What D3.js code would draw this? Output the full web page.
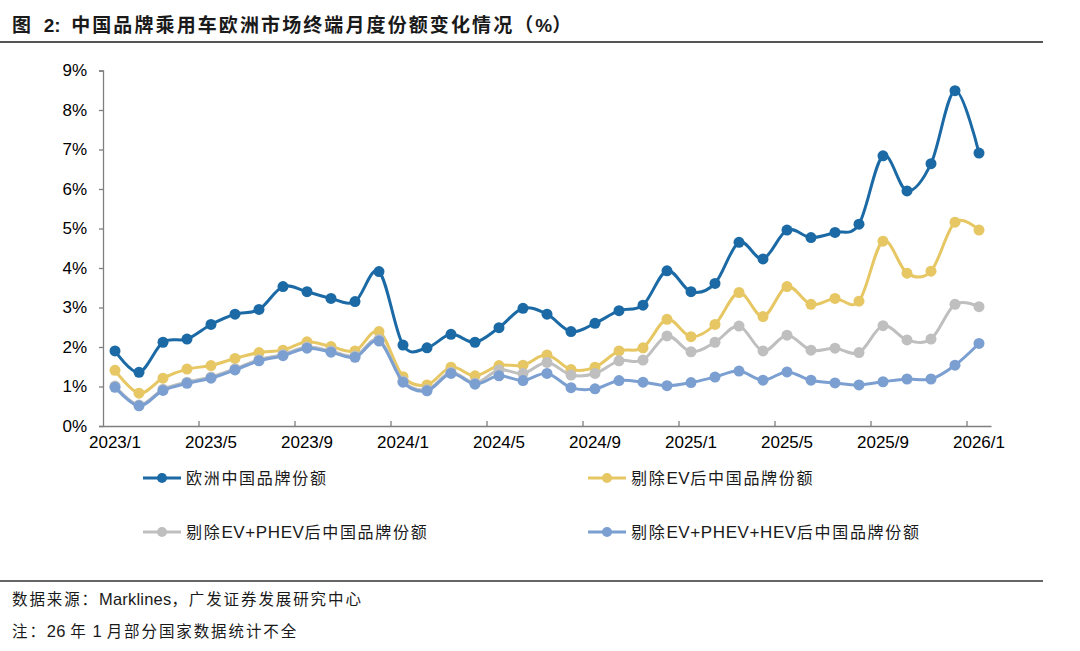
<!DOCTYPE html>
<html>
<head>
<meta charset="utf-8">
<script src="https://cdn.jsdelivr.net/npm/d3@7"></script>
<style>
  body { margin: 0; background: #fff; }
  svg { display: block; }
  .cjk { font-family: "Noto Sans CJK SC", "Liberation Sans", sans-serif; }
  .latin { font-family: "Liberation Sans", Arial, sans-serif; }
  .axis text { font-family: "Liberation Sans", Arial, sans-serif; font-size: 17px; fill: #000; }
  .axis path, .axis line { stroke: #7f7f7f; stroke-width: 1.3; }
</style>
</head>
<body>
<div id="chart"></div>
<script>
// months on the x axis
let months = [
  '2023/1','2023/2','2023/3','2023/4','2023/5','2023/6','2023/7','2023/8','2023/9','2023/10','2023/11','2023/12',
  '2024/1','2024/2','2024/3','2024/4','2024/5','2024/6','2024/7','2024/8','2024/9','2024/10','2024/11','2024/12',
  '2025/1','2025/2','2025/3','2025/4','2025/5','2025/6','2025/7','2025/8','2025/9','2025/10','2025/11','2025/12',
  '2026/1'
];
let xTickLabels = ['2023/1','2023/5','2023/9','2024/1','2024/5','2024/9','2025/1','2025/5','2025/9','2026/1'];
let yTicks = [0, 1, 2, 3, 4, 5, 6, 7, 8, 9];

// share values, %
let shareAll = [1.90,1.36,2.12,2.20,2.57,2.83,2.95,3.53,3.40,3.23,3.15,3.91,
  2.05,1.98,2.32,2.12,2.49,2.98,2.83,2.39,2.60,2.92,3.06,3.93,
  3.40,3.61,4.65,4.23,4.96,4.77,4.90,5.11,6.84,5.95,6.64,8.49,
  6.91];
let shareExEV = [1.41,0.83,1.21,1.44,1.53,1.71,1.86,1.92,2.13,2.01,1.90,2.39,
  1.25,1.04,1.49,1.27,1.53,1.54,1.80,1.43,1.49,1.90,1.98,2.70,
  2.26,2.57,3.38,2.77,3.53,3.08,3.23,3.16,4.68,3.87,3.92,5.16,
  4.96];
let shareExPHEV = [1.01,0.53,0.93,1.11,1.24,1.45,1.68,1.81,2.00,1.90,1.77,2.19,
  1.14,0.92,1.36,1.09,1.42,1.33,1.61,1.29,1.33,1.65,1.67,2.28,
  1.88,2.12,2.53,1.90,2.30,1.92,1.97,1.86,2.54,2.18,2.20,3.08,
  3.02];
let shareExHEV = [0.98,0.51,0.90,1.08,1.21,1.42,1.65,1.78,1.97,1.87,1.74,2.15,
  1.11,0.89,1.33,1.06,1.27,1.15,1.33,0.97,0.94,1.15,1.11,1.02,
  1.10,1.24,1.39,1.16,1.37,1.16,1.09,1.04,1.12,1.19,1.19,1.54,
  2.09];

let seriesNames = ['欧洲中国品牌份额', '剔除EV后中国品牌份额', '剔除EV+PHEV后中国品牌份额', '剔除EV+PHEV+HEV后中国品牌份额'];
let seriesColors = ['#1b6aa5', '#e6c763', '#bfbfbf', '#7b9fd1'];
let seriesValues = [shareAll, shareExEV, shareExPHEV, shareExHEV];

let svgWidth = 1080;
let svgHeight = 651;

let svg = d3.select('#chart').append('svg')
  .attr('width', svgWidth)
  .attr('height', svgHeight);

// write mixed text: CJK runs spaced out, latin runs in Arial
function mixedText(sel, str, spacing, latinSize, latinSpacing) {
  let runs = str.match(/[\u0000-\u00ff]+|[^\u0000-\u00ff]+/g);
  runs.forEach(function (r) {
    let latin = /^[\u0000-\u00ff]/.test(r);
    let ts = sel.append('tspan')
      .attr('class', latin ? 'latin' : 'cjk')
      .attr('letter-spacing', latin ? (latinSpacing || 0) : spacing)
      .text(r);
    if (latin && latinSize) ts.attr('font-size', latinSize);
  });
}

// title and rules
let title = svg.append('text')
  .attr('x', 12)
  .attr('y', 32)
  .attr('font-size', 19)
  .attr('font-weight', 'bold')
  .attr('fill', '#1a1a1a')
  .style('white-space', 'pre');
mixedText(title, '图  2:  中国品牌乘用车欧洲市场终端月度份额变化情况（%）', 2.1);

svg.append('line')
  .attr('x1', 0).attr('x2', 1043)
  .attr('y1', 42).attr('y2', 42)
  .attr('stroke', '#555').attr('stroke-width', 2);

svg.append('line')
  .attr('x1', 0).attr('x2', 1043)
  .attr('y1', 581).attr('y2', 581)
  .attr('stroke', '#333').attr('stroke-width', 1.5);

// scales
let x = d3.scaleBand().domain(months).range([103, 991]);
let y = d3.scaleLinear().domain([0, 9]).range([426, 70.5]);
let cx = m => x(m) + x.bandwidth() / 2;

// y axis
svg.append('g')
  .attr('class', 'axis')
  .attr('transform', 'translate(103,0)')
  .call(d3.axisLeft(y).tickValues(yTicks).tickFormat(d => d + '%').tickSize(4).tickPadding(12));

// x axis: labels at category centres
let xAxis = svg.append('g')
  .attr('class', 'axis')
  .attr('transform', 'translate(0,426)')
  .call(d3.axisBottom(x).tickValues(xTickLabels).tickSize(0).tickPadding(10));

// x tick marks on category boundaries
xAxis.selectAll('.bound')
  .data(xTickLabels.slice(1))
  .enter()
  .append('line')
  .attr('class', 'bound')
  .attr('x1', d => x(d)).attr('x2', d => x(d))
  .attr('y1', 0).attr('y2', -5);

// lines + markers
let line = d3.line()
  .x((d, i) => cx(months[i]))
  .y(d => y(d))
  .curve(d3.curveCatmullRom.alpha(0));

seriesValues.forEach(function (vals, s) {
  let g = svg.append('g');
  g.append('path')
    .datum(vals)
    .attr('d', line)
    .attr('fill', 'none')
    .attr('stroke', seriesColors[s])
    .attr('stroke-width', 3);
  g.selectAll('circle')
    .data(vals)
    .enter()
    .append('circle')
    .attr('cx', (d, i) => cx(months[i]))
    .attr('cy', d => y(d))
    .attr('r', 5.5)
    .attr('fill', seriesColors[s]);
});

// legend
let legendPos = [[143, 478], [588, 478], [143, 532], [588, 532]];
seriesNames.forEach(function (name, s) {
  let lg = svg.append('g').attr('transform', `translate(${legendPos[s][0]}, ${legendPos[s][1]})`);
  lg.append('line')
    .attr('x1', 0).attr('x2', 38)
    .attr('y1', 0).attr('y2', 0)
    .attr('stroke', seriesColors[s]).attr('stroke-width', 3);
  lg.append('circle')
    .attr('cx', 19).attr('cy', 0).attr('r', 5)
    .attr('fill', seriesColors[s]);
  let t = lg.append('text')
    .attr('x', 43)
    .attr('y', 6)
    .attr('font-size', 16)
    .attr('fill', '#1a1a1a');
  mixedText(t, name, 1.7, 17, 0.6);
});

// footer
let src = svg.append('text')
  .attr('x', 12).attr('y', 605)
  .attr('font-size', 15.5)
  .attr('fill', '#1a1a1a')
  .style('white-space', 'pre');
mixedText(src, '数据来源：Marklines，广发证券发展研究中心', 1.9, 16.5, 0.2);

let note = svg.append('text')
  .attr('x', 12).attr('y', 637)
  .attr('font-size', 15.5)
  .attr('fill', '#1a1a1a')
  .style('white-space', 'pre');
mixedText(note, '注：26 年 1 月部分国家数据统计不全', 1.9, 16.5, 0.2);
</script>
</body>
</html>
